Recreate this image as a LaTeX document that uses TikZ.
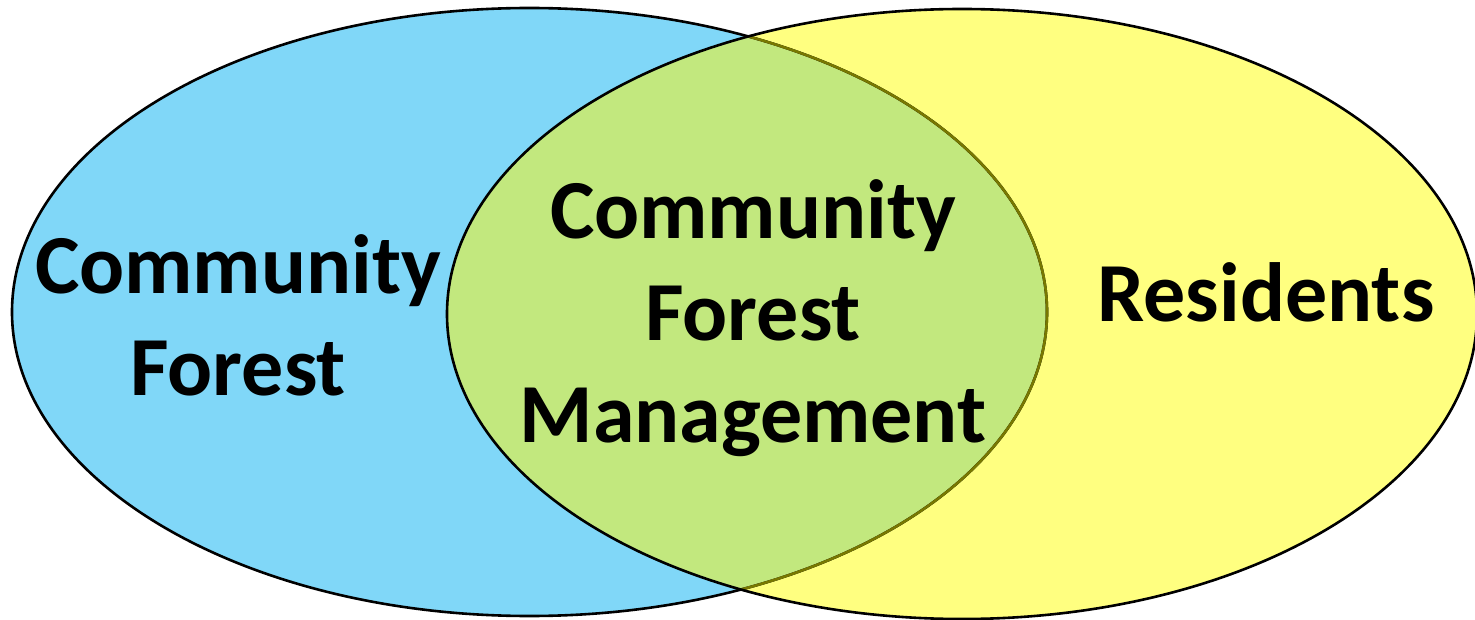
\documentclass[tikz,border=0pt]{standalone}
\usepackage{fontspec}
\setmainfont{Carlito}
\definecolor{cfblue}{RGB}{128,215,248}
\definecolor{cfyellow}{RGB}{255,255,128}
\definecolor{cfgreen}{RGB}{194,232,126}
\definecolor{cfolive}{RGB}{120,120,0}
\tikzset{
  label text/.style={font=\bfseries\fontsize{84}{102}\selectfont, align=center, inner sep=0pt},
  outline/.style={line width=2.6pt}
}
\begin{document}
\begin{tikzpicture}[x=1pt,y=-1pt]
\useasboundingbox (0,0) rectangle (1475,620);
\clip (0,0) rectangle (1475,620);
\def\blueell{(529.5,312) ellipse [x radius=517.5, y radius=304]}
\def\yellowell{(962,314) ellipse [x radius=515, y radius=305]}
\fill[cfblue] \blueell;
\fill[cfyellow] \yellowell;
\begin{scope}
  \clip \blueell;
  \fill[cfgreen] \yellowell;
\end{scope}
\draw[outline, black] \blueell;
\begin{scope}
  \clip \yellowell;
  \draw[outline, cfolive] \blueell;
\end{scope}
\draw[outline, black] \yellowell;
\node[label text] (cf) at (238,315) {Community\\Forest};
\node[label text] (cfm) at (753,318) {Community\\Forest\\Management};
\node[label text] (res) at (1266,292) {Residents};
\end{tikzpicture}
\end{document}
